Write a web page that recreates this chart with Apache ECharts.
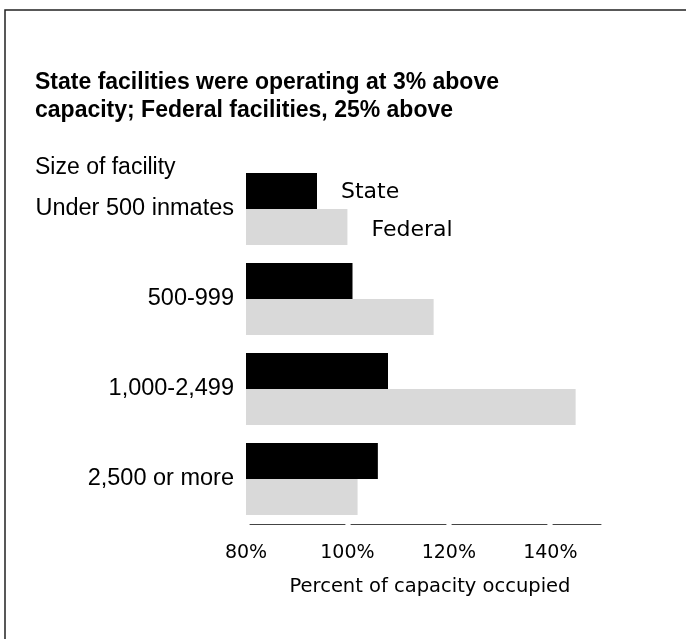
<!DOCTYPE html>
<html>
<head>
<meta charset="utf-8">
<script src="https://cdn.jsdelivr.net/npm/echarts@6/dist/echarts.min.js"></script>
<style>
html,body{margin:0;padding:0;background:#fff;}
#chart{width:686px;height:639px;}
</style>
</head>
<body>
<div id="chart"></div>
<script>
var categories = ['Under 500 inmates', '500-999', '1,000-2,499', '2,500 or more'];
var stateValues = [94, 101, 108, 106];
var federalValues = [100, 117, 145, 102];
var seriesNames = ['State', 'Federal'];
var titleText = 'State facilities were operating at 3% above\ncapacity; Federal facilities, 25% above';
var subTitleText = 'Size of facility';
var axisName = 'Percent of capacity occupied';

function withFirstLabel(values, name, fontSize, dy) {
  return values.map(function (v, i) {
    if (i === 0) {
      return {
        value: v,
        label: {
          show: true, position: 'right', distance: 24, formatter: name, offset: [0, dy],
          color: '#000', fontSize: fontSize, fontFamily: 'DejaVu Sans'
        }
      };
    }
    return v;
  });
}

var chart = echarts.init(document.getElementById('chart'), null, {renderer: 'canvas'});
chart.setOption({
  animation: false,
  backgroundColor: '#fff',
  graphic: [{
    type: 'rect',
    shape: {x: 5, y: 10, width: 720, height: 700},
    style: {fill: 'none', stroke: '#222', lineWidth: 1.5},
    silent: true, z: 0
  }],
  title: [{
    text: titleText,
    left: 35, top: 69, padding: 0,
    textStyle: {fontSize: 23, fontWeight: 'bold', color: '#000', fontFamily: 'Liberation Sans', lineHeight: 28}
  }, {
    text: subTitleText,
    left: 35, top: 155, padding: 0,
    textStyle: {fontSize: 23, fontWeight: 'normal', color: '#000', fontFamily: 'Liberation Sans', lineHeight: 26}
  }],
  grid: {left: 246, right: 85, top: 164, bottom: 115, containLabel: false},
  xAxis: {
    type: 'value', min: 80, max: 150, interval: 20, position: 'bottom',
    splitLine: {show: false}, axisTick: {show: false},
    axisLine: {show: true, lineStyle: {color: '#444', width: 1, type: [95, 6], dashOffset: 97}},
    axisLabel: {formatter: '{value}%', fontSize: 19, color: '#000', fontFamily: 'DejaVu Sans', margin: 20, showMaxLabel: false},
    name: axisName, nameLocation: 'middle', nameGap: 53,
    nameTextStyle: {fontSize: 19.5, color: '#000', fontFamily: 'DejaVu Sans', padding: [0, 0, 0, 13]}
  },
  yAxis: {
    type: 'category', data: categories, inverse: true,
    axisLine: {show: false}, axisTick: {show: false}, splitLine: {show: false},
    axisLabel: {fontSize: 23.5, color: '#000', fontFamily: 'Liberation Sans', margin: 12, padding: [8, 0, 0, 0]}
  },
  series: [{
    name: seriesNames[0], type: 'bar', barWidth: 36, barGap: '0%',
    itemStyle: {color: '#000'},
    data: withFirstLabel(stateValues, seriesNames[0], 22, 1)
  }, {
    name: seriesNames[1], type: 'bar', barWidth: 36, barGap: '0%',
    itemStyle: {color: '#d9d9d9'},
    data: withFirstLabel(federalValues, seriesNames[1], 22, 3)
  }]
});
</script>
</body>
</html>
